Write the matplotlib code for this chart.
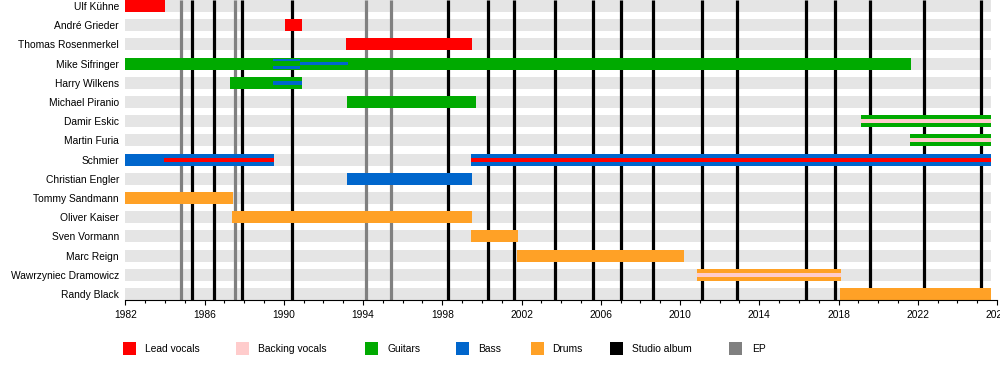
import matplotlib
matplotlib.use("Agg")
import matplotlib.pyplot as plt
from matplotlib.patches import Rectangle

plt.rcParams['font.family'] = ['Liberation Sans', 'DejaVu Sans']

# ---------------- data ----------------
members = ["Ulf Kühne", "André Grieder", "Thomas Rosenmerkel", "Mike Sifringer",
           "Harry Wilkens", "Michael Piranio", "Damir Eskic", "Martin Furia",
           "Schmier", "Christian Engler", "Tommy Sandmann", "Oliver Kaiser",
           "Sven Vormann", "Marc Reign", "Wawrzyniec Dramowicz", "Randy Black"]

START = 1982.0
PRESENT = 2025.7

# main bars
bar_member = ["Ulf Kühne", "André Grieder", "Thomas Rosenmerkel", "Mike Sifringer",
              "Harry Wilkens", "Michael Piranio", "Damir Eskic", "Martin Furia",
              "Schmier", "Schmier", "Christian Engler", "Tommy Sandmann",
              "Oliver Kaiser", "Sven Vormann", "Marc Reign", "Wawrzyniec Dramowicz",
              "Randy Black"]
bar_role = ["Lead vocals", "Lead vocals", "Lead vocals", "Guitars",
            "Guitars", "Guitars", "Guitars", "Guitars",
            "Bass", "Bass", "Bass", "Drums",
            "Drums", "Drums", "Drums", "Drums",
            "Drums"]
bar_start = [1982.0, 1990.06, 1993.14, 1982.0,
             1987.29, 1993.19, 2019.13, 2021.61,
             1982.0, 1999.45, 1993.19, 1982.0,
             1987.39, 1999.45, 2001.79, 2010.86,
             2018.08]
bar_end = [1984.0, 1990.92, 1999.5, 2021.66,
           1990.92, 1999.7, PRESENT, PRESENT,
           1989.5, PRESENT, 1999.5, 1987.42,
           1999.5, 2001.8, 2010.2, 2018.11,
           PRESENT]

# secondary roles drawn as thin lines inside the bars
line_member = ["Mike Sifringer", "Mike Sifringer", "Mike Sifringer", "Harry Wilkens",
               "Damir Eskic", "Martin Furia", "Schmier", "Schmier",
               "Wawrzyniec Dramowicz"]
line_role = ["Bass", "Bass", "Bass", "Bass",
             "Backing vocals", "Backing vocals", "Lead vocals", "Lead vocals",
             "Backing vocals"]
line_kind = ["upper", "lower", "center-thin", "center",
             "center", "center", "center", "center",
             "center"]
line_start = [1989.47, 1989.47, 1990.82, 1989.47,
              2019.13, 2021.61, 1983.96, 1999.45,
              2010.86]
line_end = [1990.82, 1990.82, 1993.23, 1990.92,
            PRESENT, PRESENT, 1989.5, PRESENT,
            2018.11]

studio_albums = [1985.38, 1986.49, 1987.9, 1990.4, 1998.3, 2000.32, 2001.62,
                 2003.71, 2005.62, 2007.04, 2008.65, 2011.13, 2012.89,
                 2016.38, 2017.83, 2019.61, 2022.3, 2025.21]
eps = [1984.83, 1987.55, 1994.13, 1995.43]

legend_labels = ["Lead vocals", "Backing vocals", "Guitars", "Bass", "Drums",
                 "Studio album", "EP"]
legend_colors = ["#ff0000", "#ffcccc", "#00aa00", "#0066cc", "#ffa126",
                 "#000000", "#808080"]

# ---------------- styles ----------------
role_color = dict(zip(legend_labels, legend_colors))
BAR_H = 0.62
FS = 7.35
kind_offset = {"upper": -0.19, "lower": 0.19, "center-thin": -0.02, "center": 0.0}
kind_height = {"upper": 0.14, "lower": 0.14, "center-thin": 0.14, "center": 0.2}

fig = plt.figure(figsize=(10, 3.75), dpi=100)
ax = fig.add_axes([0.1253, 0.2, 0.8717, 0.8])

row = {m: i for i, m in enumerate(members)}
ypos = list(range(len(members)))

# background bands
ax.barh(ypos, [PRESENT - START] * len(members), left=START, height=BAR_H,
        color="#e5e5e5", zorder=0, linewidth=0)

# release lines
ax.vlines(eps, 0, 1, transform=ax.get_xaxis_transform(), colors="#808080",
          linewidth=2.3, zorder=1)
ax.vlines(studio_albums, 0, 1, transform=ax.get_xaxis_transform(), colors="#000000",
          linewidth=2.3, zorder=1)

# main bars
for m, r, s, e in zip(bar_member, bar_role, bar_start, bar_end):
    ax.barh(row[m], e - s, left=s, height=BAR_H, color=role_color[r],
            zorder=2, linewidth=0)

# secondary lines
for m, r, k, s, e in zip(line_member, line_role, line_kind, line_start, line_end):
    ax.barh(row[m] + kind_offset[k], e - s, left=s, height=kind_height[k],
            color=role_color[r], zorder=3, linewidth=0)

ax.set_xlim(1982, 2026)
ax.set_ylim(len(members) - 1 + BAR_H / 2, -BAR_H / 2)

ax.set_xticks(range(1982, 2027, 4))
ax.set_xticks(range(1982, 2027, 1), minor=True)
ax.tick_params(axis="x", which="major", length=3.6, width=0.8, pad=3.8,
               labelsize=FS, colors="#000000")
ax.tick_params(axis="x", which="minor", length=2.2, width=0.8)
ax.set_yticks(ypos)
ax.set_yticklabels(members)
ax.tick_params(axis="y", length=0, pad=4.5, labelsize=FS)

for side in ["top", "right", "left"]:
    ax.spines[side].set_visible(False)
ax.spines["bottom"].set_linewidth(0.8)

# legend
W, H = 1000.0, 375.0
sq_x = [123, 236, 365, 456, 531, 610, 729]
tx_x = [145, 258, 387, 478, 552, 632, 752]
for lab, col, sx, tx in zip(legend_labels, legend_colors, sq_x, tx_x):
    fig.patches.append(Rectangle((sx / W, 1 - 355 / H), 13 / W, 13 / H,
                                 transform=fig.transFigure, color=col,
                                 linewidth=0))
    fig.text(tx / W, 1 - 349 / H, lab, fontsize=FS, va="center", ha="left")

fig.savefig("out.png", dpi=100)
